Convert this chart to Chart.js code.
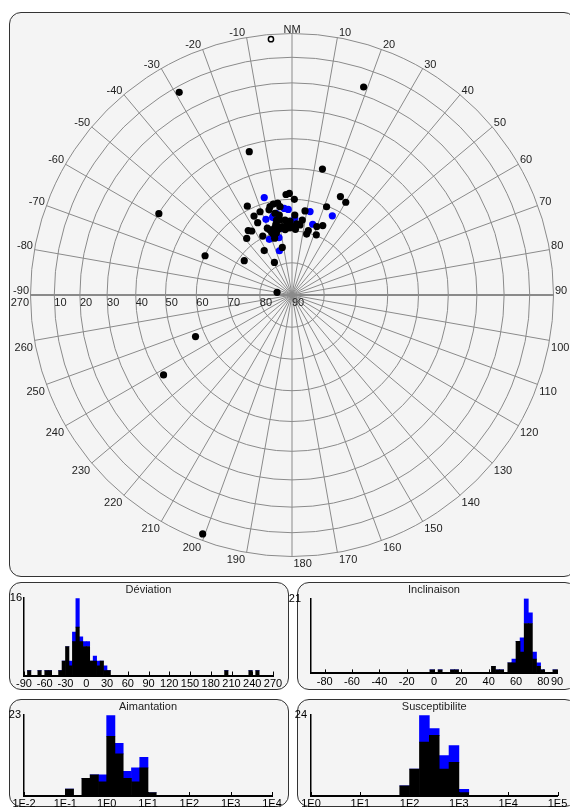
<!DOCTYPE html>
<html>
<head>
<meta charset="utf-8">
<script src="https://cdn.jsdelivr.net/npm/chart.js"></script>
<style>
html,body{margin:0;padding:0;overflow:hidden;background:#fff;width:570px;height:808px}
.panel{position:absolute;box-sizing:border-box;border:1.5px solid #333;border-radius:12px;background:#f4f4f4}
canvas{position:absolute}
</style>
</head>
<body>
<div class="panel" style="left:9px;top:12px;width:567px;height:565px"></div>
<div class="panel" style="left:9px;top:582px;width:280px;height:108px"></div>
<div class="panel" style="left:297px;top:582px;width:280px;height:108px"></div>
<div class="panel" style="left:9px;top:699px;width:280px;height:108px"></div>
<div class="panel" style="left:297px;top:699px;width:280px;height:108px"></div>
<canvas id="net" width="570" height="580" style="left:0;top:0"></canvas>
<canvas id="dev" width="280" height="108" style="left:9px;top:582px"></canvas>
<canvas id="inc" width="290" height="108" style="left:287px;top:582px"></canvas>
<canvas id="aim" width="280" height="115" style="left:9px;top:699px"></canvas>
<canvas id="sus" width="290" height="115" style="left:287px;top:699px"></canvas>
<script>
const FONT = '"Liberation Sans", Arial, sans-serif';

// --- stereonet directions (declination, inclination in degrees) ---
const blackDec = [-29.1, 19.0, -16.6, 13.6, -58.6, -65.7, -54.3, -28.3, -80, 246.7, 238.1, 200.5,
  -3.4, -1.5, 1.4, -26.7, -14.0, -11.6, -8.9, -7.7, -15.1, 8.8, 21.4, 26.2, 30.1, -21.0, -25.7, -11.8, -9.0,
  -25.4, -11.6, -9.1, -5.3, -1.5, 3.8, 6.5, 7.8, 19.9, 23.9, -20.3, -14.8, -17.0, 13.5, 14.2, -34.2, -32.2,
  -38.7, -26.4, -11.5, -32.0,
  -18, -16, -19, -17, -13, -11, -14, -12, -8, -6, -4, -2, -3, 1, 3, 2, 22];
const blackInc = [12.3, 17.0, 42.3, 49.0, 40.1, 60.1, 71.7, 78.5, 85.3, 57.0, 41.7, 2.8,
  58.4, 58.1, 60.0, 58.8, 61.5, 60.9, 60.9, 62.1, 62.4, 63.4, 60.3, 55.5, 56.3, 62.1, 62.6, 63.9, 64.7,
  65.0, 66.1, 66.3, 66.5, 66.9, 67.8, 68.0, 66.4, 67.3, 66.3, 67.8, 68.5, 70.1, 70.5, 69.3, 65.7, 66.4,
  67.4, 69.5, 74.9, 73.7,
  69.5, 70.5, 68.5, 71.5, 67.5, 69, 70, 68, 68.5, 69.5, 67.5, 69, 68.2, 68.7, 69.5, 65, 69.8];
const blueDec = [-15.9, -5.1, -2.5, 12.2, -13.3, 27.0, -19.0, 0.5, 16.3, -8.8, -22.2, -12.8, -15.9, -12, -13, -11, -14, 2];
const blueInc = [58.2, 62.8, 63.2, 63.3, 64.6, 62.2, 65.0, 68.0, 67.0, 69.0, 71.3, 71.7, 75.7, 66, 68, 64, 65, 66];
const openDec = [-4.7];
const openInc = [-2.1];

const ringIncs = [0, 10, 20, 30, 40, 50, 60, 70, 80];
const ringLabels = [10, 20, 30, 40, 50, 60, 70, 80, 90];
const decLabels = [];
for (let d = -90; d <= 270; d += 10) decLabels.push(d);

// --- histograms ---
const devBins  = [-85, -70, -60, -55, -40, -35, -30, -25, -20, -15, -10, -5, 0, 5, 10, 15, 20, 25, 30, 200, 235, 245];
const devBlack = [1, 1, 1, 1, 1, 3, 6, 2, 7, 10, 7, 6, 6, 3, 3, 2, 3, 1, 1, 1, 1, 1];
const devBlue  = [0, 0, 0, 0, 0, 0, 0, 1, 2, 6, 1, 1, 1, 0, 1, 1, 0, 1, 0, 0, 0, 0];
const devTicks = [-90, -60, -30, 0, 30, 60, 90, 120, 150, 180, 210, 240, 270];

const incBins  = [-3, 3, 12, 15, 42, 45, 48, 54, 57, 60, 63, 66, 69, 72, 75, 78, 87];
const incBlack = [1, 1, 1, 1, 2, 1, 1, 3, 3, 9, 6, 14, 14, 4, 2, 1, 1];
const incBlue  = [0, 0, 0, 0, 0, 0, 0, 0, 1, 0, 4, 7, 3, 2, 1, 0, 0];
const incTicks = [-80, -60, -40, -20, 0, 20, 40, 60, 80, 90];

const aimLog   = [-1.0, -0.6, -0.4, -0.2, 0, 0.2, 0.4, 0.6, 0.8, 1.0];
const aimBlack = [2, 5, 6, 4, 17, 12, 5, 4, 8, 1];
const aimBlue  = [0, 0, 0, 2, 6, 3, 2, 4, 3, 0];
const aimTicks = [1e-2, 1e-1, 1e0, 1e1, 1e2, 1e3, 1e4];

const susLog   = [1.8, 2.0, 2.2, 2.4, 2.6, 2.8, 3.0];
const susBlack = [3, 8, 16, 18, 8, 10, 1];
const susBlue  = [0, 0, 8, 2, 4, 5, 1];
const susTicks = [1e0, 1e1, 1e2, 1e3, 1e4, 1e5];

// equal-area (Schmidt) projection
function proj(dec, inc) {
  const r = Math.SQRT2 * Math.sin((90 - Math.abs(inc)) / 2 * Math.PI / 180);
  const a = dec * Math.PI / 180;
  return { x: r * Math.sin(a), y: r * Math.cos(a) };
}
const pts = (decs, incs) => decs.map((d, i) => proj(d, incs[i]));

const netGrid = {
  id: 'netGrid',
  beforeDatasetsDraw(chart) {
    const { ctx, scales: { x, y } } = chart;
    const cx = x.getPixelForValue(0), cy = y.getPixelForValue(0);
    ctx.save();
    ctx.strokeStyle = '#8a8a8a';
    ctx.lineWidth = 1;
    ringIncs.forEach(inc => {
      const rp = x.getPixelForValue(proj(0, inc).y) - cx;
      ctx.beginPath(); ctx.arc(cx, cy, rp, 0, Math.PI * 2); ctx.stroke();
    });
    for (let d = 0; d < 360; d += 10) {
      const p = proj(d, 0);
      ctx.beginPath(); ctx.moveTo(cx, cy);
      ctx.lineTo(x.getPixelForValue(p.x), y.getPixelForValue(p.y)); ctx.stroke();
    }
    ctx.lineWidth = 2;
    ctx.beginPath(); ctx.moveTo(x.getPixelForValue(-1), cy); ctx.lineTo(x.getPixelForValue(1), cy); ctx.stroke();

    ctx.fillStyle = '#222';
    ctx.font = '11px ' + FONT;
    decLabels.forEach(d => {
      const a = d * Math.PI / 180, s = Math.sin(a), c = Math.cos(a);
      const p = proj(d, 0);
      ctx.textAlign = s > 0 ? 'left' : (s < 0 ? 'right' : 'center');
      ctx.textBaseline = c > 0 ? 'alphabetic' : 'top';
      const px = x.getPixelForValue(p.x) + Math.sign(s) * 1.5;
      const py = y.getPixelForValue(p.y) + (c > 0 ? -1 : 2);
      ctx.fillText(d === 0 ? 'NM' : String(d), px, py);
    });
    ctx.textAlign = 'left'; ctx.textBaseline = 'top';
    ringLabels.forEach(inc => {
      ctx.fillText(String(inc), x.getPixelForValue(-proj(0, inc).y), cy + 2.5);
    });
    ctx.restore();
  }
};

new Chart(document.getElementById('net'), {
  type: 'scatter',
  data: {
    datasets: [
      { data: pts(blackDec, blackInc), backgroundColor: '#000', borderWidth: 0, pointRadius: 3.6, clip: false },
      { data: pts(blueDec, blueInc), backgroundColor: '#0000ff', borderWidth: 0, pointRadius: 3.6, clip: false },
      { data: pts(openDec, openInc), backgroundColor: '#fff', borderColor: '#000', borderWidth: 1.5, pointRadius: 2.6, clip: false }
    ]
  },
  options: {
    responsive: false, animation: false, devicePixelRatio: 1,
    layout: { padding: { left: 30.5, right: 16.5, top: 33.5, bottom: 23.5 } },
    plugins: { legend: { display: false }, tooltip: { enabled: false } },
    scales: {
      x: { type: 'linear', min: -1, max: 1, display: false },
      y: { type: 'linear', min: -1, max: 1, display: false }
    }
  },
  plugins: [netGrid]
});

const tickMarks = {
  id: 'tickMarks',
  afterDraw(chart) {
    const { ctx, scales: { x }, chartArea } = chart;
    ctx.save(); ctx.strokeStyle = '#000'; ctx.lineWidth = 1;
    x.ticks.forEach(t => {
      const px = Math.round(x.getPixelForValue(t.value)) + 0.5;
      ctx.beginPath(); ctx.moveTo(px, chartArea.bottom); ctx.lineTo(px, chartArea.bottom - 4); ctx.stroke();
    });
    ctx.restore();
  }
};

function hist(id, o) {
  const mk = arr => arr.map((v, i) => ({ x: o.xs[i], y: v }));
  new Chart(document.getElementById(id), {
    type: 'bar',
    data: {
      datasets: [
        { data: mk(o.black), backgroundColor: '#000', barPercentage: 1, categoryPercentage: 1 },
        { data: mk(o.blue), backgroundColor: '#0000ff', barPercentage: 1, categoryPercentage: 1 }
      ]
    },
    options: {
      responsive: false, animation: false, devicePixelRatio: 1,
      layout: { padding: { left: 0, right: o.padRight, top: 0, bottom: 0 } },
      plugins: {
        legend: { display: false }, tooltip: { enabled: false },
        title: { display: true, fullSize: false, text: o.title, color: '#222', font: { family: FONT, size: 11, weight: 'normal' }, padding: { top: 1, bottom: 2 } }
      },
      scales: {
        x: {
          type: o.log ? 'logarithmic' : 'linear', min: o.min, max: o.max, offset: false, stacked: true,
          grid: { display: false, drawTicks: false },
          border: { display: true, color: '#000', width: 2 },
          ticks: {
            color: '#000', font: { family: FONT, size: 11 }, padding: o.tickPad, autoSkip: false, maxRotation: 0,
            callback: v => o.log ? '1E' + Math.round(Math.log10(v)) : String(v)
          },
          afterBuildTicks: s => { s.ticks = o.ticks.map(v => ({ value: v })); },
          afterFit: s => { s.height = o.xh; }
        },
        y: {
          min: 0, max: o.ymax, stacked: true,
          grid: { display: false, drawTicks: false },
          border: { display: true, color: '#000', width: 1.5 },
          ticks: { color: '#000', font: { family: FONT, size: 11 }, padding: o.yPad },
          afterBuildTicks: s => { s.ticks = [{ value: o.ymax }]; },
          afterFit: s => { s.width = o.yw; }
        }
      }
    },
    plugins: [tickMarks]
  });
}

const linCenters = (bins, w) => bins.map(b => b + w / 2);
const logCenters = bins => bins.map(b => Math.pow(10, b + 0.1));

hist('dev', { title: 'Déviation', xs: linCenters(devBins, 5), black: devBlack, blue: devBlue, min: -90, max: 270,
  ticks: devTicks, ymax: 16, yw: 15, padRight: 16, xh: 14.5, tickPad: 2, yPad: 2 });
hist('inc', { title: 'Inclinaison', xs: linCenters(incBins, 3), black: incBlack, blue: incBlue, min: -90, max: 90,
  ticks: incTicks, ymax: 21, yw: 24, padRight: 20, xh: 14.5, tickPad: 2, yPad: 10 });
hist('aim', { title: 'Aimantation', log: true, xs: logCenters(aimLog), black: aimBlack, blue: aimBlue, min: 1e-2, max: 1e4,
  ticks: aimTicks, ymax: 23, yw: 15, padRight: 17, xh: 18, tickPad: 1, yPad: 3 });
hist('sus', { title: 'Susceptibilite', log: true, xs: logCenters(susLog), black: susBlack, blue: susBlue, min: 1e0, max: 1e5,
  ticks: susTicks, ymax: 24, yw: 24, padRight: 19.5, xh: 18, tickPad: 1, yPad: 4 });
</script>
</body>
</html>
